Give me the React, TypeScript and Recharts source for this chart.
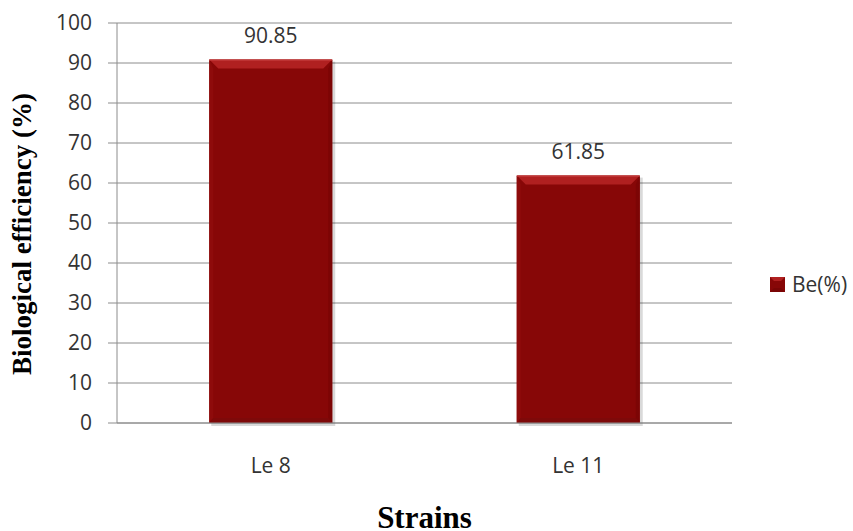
import React from "react";
import { BarChart, Bar, XAxis, YAxis, CartesianGrid, LabelList, Legend, Label } from "recharts";

const strains = ["Le 8", "Le 11"];
const beValues = [90.85, 61.85];
const yTicks = [0, 10, 20, 30, 40, 50, 60, 70, 80, 90, 100];
const seriesName = "Be(%)";

const data = strains.map((s, i) => ({ strain: s, be: beValues[i] }));

const BevelBar = (props: any) => {
  const { x, y, width, height } = props;
  if (height <= 0) return null;
  const b = Math.min(9, width / 4, height / 2);
  const bb = Math.min(5, height / 2);
  return (
    <g>
      <rect x={x + 2} y={y + 2} width={width + 1} height={height + 1} fill="rgba(0,0,0,0.15)" />
      <rect x={x} y={y} width={width} height={height} fill="#870707" />
      <polygon points={`${x},${y} ${x + width},${y} ${x + width - b},${y + b} ${x + b},${y + b}`} fill="#B02020" />
      <polygon points={`${x},${y} ${x + 4},${y + b} ${x + 4},${y + height - bb} ${x},${y + height}`} fill="#8E0B0B" />
      <polygon points={`${x + width},${y} ${x + width},${y + height} ${x + width - 4},${y + height - bb} ${x + width - 4},${y + b}`} fill="#7C0505" />
      <polygon points={`${x},${y + height} ${x + 4},${y + height - bb} ${x + width - 4},${y + height - bb} ${x + width},${y + height}`} fill="#7E0909" />
      <line x1={x} y1={y + 0.5} x2={x + width} y2={y + 0.5} stroke="#C84040" strokeWidth={1} />
    </g>
  );
};

const LegendContent = () => (
  <div style={{ display: "flex", alignItems: "center", fontFamily: "Open Sans", fontSize: 21, color: "#333" }}>
    <svg width={16} height={16} style={{ marginRight: 6 }}>
      <rect x={0} y={1} width={15} height={15} fill="#870707" />
      <polygon points="0,1 15,1 11,5 4,5" fill="#B02020" />
      <polygon points="0,16 4,12 11,12 15,16" fill="#7A0505" />
    </svg>
    <span>{seriesName}</span>
  </div>
);

const YTitle = () => (
  <text
    x={0}
    y={0}
    transform="translate(31, 234) rotate(-90)"
    textAnchor="middle"
    fontFamily="Liberation Serif"
    fontWeight="bold"
    fontSize={27}
    fill="#000"
  >
    Biological efficiency (%)
  </text>
);

export default function App() {
  return (
    <div style={{ position: "absolute", left: 0, top: 0, width: 853, height: 531, background: "#fff" }}>
      <BarChart
        width={853}
        height={531}
        data={data}
        margin={{ top: 23, right: 121, bottom: 0, left: 57 }}
        barCategoryGap="30%"
      >
        <CartesianGrid horizontal vertical={false} stroke="#8c8c8c" strokeWidth={1} />
        <XAxis
          dataKey="strain"
          height={108}
          tickSize={0}
          tickMargin={35}
          axisLine={{ stroke: "#8c8c8c" }}
          tick={{ fontFamily: "Open Sans", fontSize: 21, fill: "#333" }}
        >
          <Label
            value="Strains"
            position="insideBottom"
            offset={3}
            style={{ fontFamily: "Liberation Serif", fontWeight: "bold", fontSize: 31, fill: "#000" }}
          />
        </XAxis>
        <YAxis
          width={60}
          domain={[0, 100]}
          ticks={yTicks}
          interval={0}
          tickSize={9}
          tickMargin={16}
          axisLine={{ stroke: "#8c8c8c" }}
          tickLine={{ stroke: "#8c8c8c" }}
          tick={{ fontFamily: "Open Sans", fontSize: 21, fill: "#333" }}
        >
          <Label content={<YTitle />} />
        </YAxis>
        <Legend
          layout="horizontal"
          align="center"
          verticalAlign="middle"
          content={<LegendContent />}
          wrapperStyle={{ position: "absolute", left: 770, top: 270, width: 90 }}
        />
        <Bar dataKey="be" name={seriesName} fill="#870707" shape={<BevelBar />} isAnimationActive={false}>
          <LabelList
            dataKey="be"
            position="top"
            offset={17}
            style={{ fontFamily: "Open Sans", fontSize: 21, fill: "#333" }}
          />
        </Bar>
      </BarChart>
    </div>
  );
}
